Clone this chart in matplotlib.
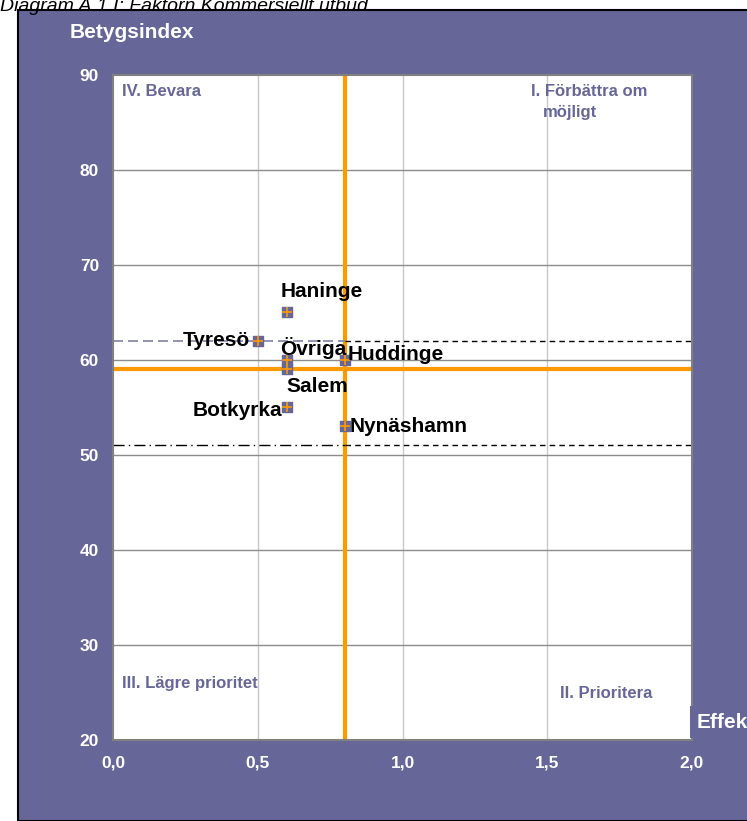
import matplotlib
matplotlib.use('Agg')
import matplotlib.pyplot as plt
from matplotlib.patches import Rectangle

plt.rcParams['font.family'] = ['Liberation Sans', 'DejaVu Sans']

# data
kommuner = ['Haninge', 'Tyresö', 'Övriga', 'Salem', 'Huddinge', 'Botkyrka', 'Nynäshamn']
effekt = [0.6, 0.5, 0.6, 0.6, 0.8, 0.6, 0.8]
betyg = [65, 62, 60, 59, 60, 55, 53]
# label offsets in pixels (dx, dy) and alignment
offsets = [(-6, 21, 'left'), (-8, 0, 'right'), (-7, 12, 'left'), (0, -17, 'left'),
           (3, 5, 'left'), (-4, -3, 'right'), (5, 0, 'left')]

medel_x = 0.8
medel_y = 59
ovre = 62
undre = 51

purple = '#666699'
orange = '#FF9900'

fig = plt.figure(figsize=(7.47, 8.21), dpi=100)
fig.patches.append(Rectangle((18 / 747, 0), 1, 1 - 10 / 821, transform=fig.transFigure,
                             facecolor=purple, edgecolor='black', linewidth=1.5, zorder=-1))
fig.text(0.0, 1 - 11 / 821, 'Diagram A.1 I: Faktorn Kommersiellt utbud', fontsize=14,
         style='italic', va='baseline', ha='left')

ax = fig.add_axes([113 / 747, 1 - 740 / 821, 579 / 747, 665 / 821])
ax.set_facecolor('white')
ax.set_xlim(0, 2)
ax.set_ylim(20, 90)
ax.set_xticks([0, 0.5, 1.0, 1.5, 2.0])
ax.set_xticklabels(['0,0', '0,5', '1,0', '1,5', '2,0'])
ax.set_yticks(range(20, 91, 10))
ax.tick_params(colors='white', length=0, labelsize=12.5)
ax.tick_params(axis='x', pad=11)
ax.tick_params(axis='y', pad=10)
for lab in ax.get_xticklabels() + ax.get_yticklabels():
    lab.set_fontweight('bold')
for s in ax.spines.values():
    s.set_color('#808080')
    s.set_linewidth(1.5)

for v in [0.5, 1.0, 1.5]:
    ax.axvline(v, color='#c8c8c8', lw=1, zorder=1)
for v in range(30, 90, 10):
    ax.axhline(v, color='#8c8c8c', lw=1, zorder=1)

ax.axvline(medel_x, color=orange, lw=3, zorder=2)
ax.axhline(medel_y, color=orange, lw=3, zorder=2)
ax.plot([0, medel_x], [ovre, ovre], color='#8080a8', lw=1.2, ls=(0, (6, 3)), zorder=2)
ax.plot([medel_x, 2], [ovre, ovre], color='black', lw=1, ls=(0, (4, 3)), zorder=2)
ax.plot([0, medel_x], [undre, undre], color='black', lw=1, ls=(0, (8, 3, 1, 3)), zorder=2)
ax.plot([medel_x, 2], [undre, undre], color='black', lw=1, ls=(0, (4, 3)), zorder=2)

ax.scatter(effekt, betyg, marker='s', s=55, color=purple, zorder=4)
ax.scatter(effekt, betyg, marker='+', s=55, color=orange, linewidths=1.2, zorder=5)

for namn, x, y, (dx, dy, ha) in zip(kommuner, effekt, betyg, offsets):
    ax.annotate(namn, (x, y), xytext=(dx, dy), textcoords='offset pixels', ha=ha, va='center',
                fontsize=15, fontweight='bold', color='black', zorder=6)

kw = dict(transform=fig.transFigure, color=purple, fontsize=12, fontweight='bold',
          ha='left', va='center')
fig.text(122 / 747, 1 - 92 / 821, 'IV. Bevara', **kw)
fig.text(531 / 747, 1 - 92 / 821, 'I. Förbättra om', **kw)
fig.text(543 / 747, 1 - 112 / 821, 'möjligt', **kw)
fig.text(122 / 747, 1 - 683 / 821, 'III. Lägre prioritet', **kw)
fig.text(560 / 747, 1 - 693 / 821, 'II. Prioritera', **kw)

fig.text(70 / 747, 1 - 33 / 821, 'Betygsindex', color='white', fontsize=15,
         fontweight='bold', va='center', ha='left')
fig.text(697 / 747, 1 - 722 / 821, 'Effektindex', color='white', fontsize=15,
         fontweight='bold', va='center', ha='left',
         bbox=dict(boxstyle='square,pad=0.33', facecolor=purple, edgecolor='none'))

fig.savefig('out.png', dpi=100)
